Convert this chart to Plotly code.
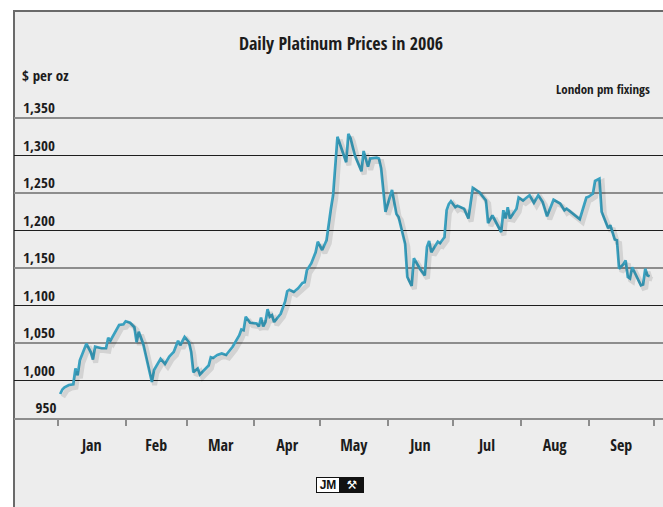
import pandas as pd
import plotly.graph_objects as go

# ---------------- data ----------------
dates = [
    "2006-01-02", "2006-01-03", "2006-01-04", "2006-01-06", "2006-01-08", "2006-01-09",
    "2006-01-10", "2006-01-11", "2006-01-14", "2006-01-16", "2006-01-17", "2006-01-18",
    "2006-01-21", "2006-01-23", "2006-01-24", "2006-01-25", "2006-01-29", "2006-01-31",
    "2006-02-01", "2006-02-03", "2006-02-05", "2006-02-06", "2006-02-07", "2006-02-09",
    "2006-02-13", "2006-02-14", "2006-02-17", "2006-02-19", "2006-02-20", "2006-02-21",
    "2006-02-23", "2006-02-25", "2006-02-26", "2006-02-28",
    "2006-03-02", "2006-03-03", "2006-03-04", "2006-03-06", "2006-03-07", "2006-03-11",
    "2006-03-12", "2006-03-13", "2006-03-15", "2006-03-17", "2006-03-19", "2006-03-22",
    "2006-03-25", "2006-03-26", "2006-03-27", "2006-03-28", "2006-03-30",
    "2006-04-02", "2006-04-03", "2006-04-04", "2006-04-05", "2006-04-06", "2006-04-07",
    "2006-04-08", "2006-04-09", "2006-04-10", "2006-04-13", "2006-04-15", "2006-04-16",
    "2006-04-17", "2006-04-19", "2006-04-21", "2006-04-23", "2006-04-24", "2006-04-25",
    "2006-04-27", "2006-04-29", "2006-04-30",
    "2006-05-02", "2006-05-04", "2006-05-06", "2006-05-07", "2006-05-09", "2006-05-13",
    "2006-05-14", "2006-05-15", "2006-05-17", "2006-05-20", "2006-05-21", "2006-05-23",
    "2006-05-24", "2006-05-27", "2006-05-28", "2006-05-29", "2006-05-31",
    "2006-06-02", "2006-06-03", "2006-06-05", "2006-06-06", "2006-06-09", "2006-06-10",
    "2006-06-12", "2006-06-13", "2006-06-16", "2006-06-18", "2006-06-19", "2006-06-20",
    "2006-06-21", "2006-06-24", "2006-06-25", "2006-06-27", "2006-06-28", "2006-06-29",
    "2006-06-30",
    "2006-07-02", "2006-07-03", "2006-07-06", "2006-07-08", "2006-07-10", "2006-07-12",
    "2006-07-13", "2006-07-16", "2006-07-17", "2006-07-19", "2006-07-23", "2006-07-24",
    "2006-07-25", "2006-07-26", "2006-07-27", "2006-07-30", "2006-07-31",
    "2006-08-02", "2006-08-05", "2006-08-07", "2006-08-09", "2006-08-11", "2006-08-13",
    "2006-08-16", "2006-08-19", "2006-08-21", "2006-08-22", "2006-08-28", "2006-08-31",
    "2006-09-01", "2006-09-03", "2006-09-04", "2006-09-06", "2006-09-07", "2006-09-10",
    "2006-09-11", "2006-09-12", "2006-09-13", "2006-09-14", "2006-09-15", "2006-09-17",
    "2006-09-18", "2006-09-19", "2006-09-20", "2006-09-21", "2006-09-23", "2006-09-25",
    "2006-09-26", "2006-09-27", "2006-09-28", "2006-09-29",
]
prices = [
    982, 988, 991, 994, 995, 1016,
    1007, 1027, 1049, 1038, 1028, 1045,
    1043, 1043, 1057, 1053, 1074, 1075,
    1079, 1077, 1071, 1051, 1065, 1049,
    998, 1014, 1029, 1022, 1027, 1032,
    1038, 1053, 1047, 1058,
    1051, 1038, 1011, 1016, 1008, 1020,
    1031, 1030, 1034, 1036, 1034, 1045,
    1060, 1068, 1067, 1085, 1077,
    1076, 1072, 1084, 1072, 1078, 1095,
    1085, 1087, 1078, 1089, 1105, 1119,
    1121, 1118, 1123, 1130, 1131, 1147,
    1156, 1171, 1185,
    1174, 1187, 1229, 1247, 1325, 1291,
    1329, 1323, 1300, 1279, 1306, 1285,
    1296, 1297, 1296, 1283, 1225,
    1243, 1254, 1222, 1218, 1182, 1138,
    1126, 1163, 1148, 1140, 1178, 1186,
    1171, 1185, 1183, 1191, 1227, 1235,
    1239,
    1231, 1233, 1229, 1216, 1257, 1253,
    1251, 1240, 1210, 1220, 1198, 1227,
    1216, 1231, 1216, 1229, 1244,
    1240, 1247, 1237, 1247, 1238, 1219,
    1241, 1236, 1227, 1229, 1215, 1244,
    1245, 1249, 1266, 1269, 1225, 1203,
    1207, 1198, 1188, 1187, 1149, 1155,
    1160, 1138, 1136, 1151, 1138, 1127,
    1128, 1149, 1140, 1139,
]
month_labels = ["Jan", "Feb", "Mar", "Apr", "May", "Jun", "Jul", "Aug", "Sep"]
y_levels = [950, 1000, 1050, 1100, 1150, 1200, 1250, 1300, 1350]
y_labels = ["950", "1,000", "1,050", "1,100", "1,150", "1,200", "1,250", "1,300", "1,350"]
dark_levels = [1000, 1100, 1200, 1300]
grey_levels = [1050, 1150, 1250, 1350]
y_top = 1390

title_text = "Daily Platinum Prices in 2006"
unit_text = "$ per oz"
note_text = "London pm fixings"

# ---------------- derived ----------------
month_starts = pd.date_range("2006-01-01", periods=len(month_labels) + 1, freq="MS")
month_mids = [month_starts[i] + (month_starts[i + 1] - month_starts[i]) / 2
              for i in range(len(month_labels))]

maxlen = max(len(s) for s in y_labels)
y_text = [("\u2007\u2008" if len(s) < maxlen else "") + s for s in y_labels]

FONT = "Open Sans Condensed, Roboto Condensed, Liberation Sans Narrow, sans-serif"
LINE = "#3aa1c0"
GRID_GREY = "#8d8d8d"
GRID_DARK = "#1e1e1e"
PANEL = "#ededed"
TXT = "#1c1c1c"

W, H = 663, 507
L, R, T, B = 14, 0, 88, 89
PW, PH = W - L - R, H - T - B

def px_x(px):
    return (px - L) / PW

def px_y(py):
    return (H - B - py) / PH

x_range = [pd.Timestamp("2005-12-11 20:24"), pd.Timestamp("2006-10-05 02:53")]
shift_days = pd.Timedelta(hours=30)

fig = go.Figure()

# soft drop shadow (same data on slightly offset overlay axes)
fig.add_trace(go.Scatter(
    x=pd.to_datetime(dates), y=prices, mode="lines",
    line=dict(color="rgba(0,0,0,0.11)", width=5),
    xaxis="x2", yaxis="y2", hoverinfo="skip", showlegend=False,
))
fig.add_trace(go.Scatter(
    x=pd.to_datetime(dates), y=prices, mode="lines",
    line=dict(color=LINE, width=2.7),
    showlegend=False, name="Platinum",
))

shapes = [
    dict(type="rect", xref="paper", yref="paper",
         x0=0, x1=1.05, y0=-0.6, y1=px_y(11),
         fillcolor=PANEL, line=dict(color="#6a6a6a", width=2), layer="below"),
]
for v in grey_levels:
    shapes.append(dict(type="line", xref="paper", yref="y", x0=0, x1=1, y0=v, y1=v,
                       line=dict(color=GRID_GREY, width=2), layer="below"))

fig.update_layout(
    width=W, height=H,
    margin=dict(l=L, r=R, t=T, b=B, autoexpand=False),
    paper_bgcolor="white",
    plot_bgcolor="rgba(0,0,0,0)",
    showlegend=False,
    font=dict(family=FONT, color=TXT, size=14),
    title=dict(text=title_text, x=341 / W, xanchor="center", xref="container",
               y=1 - 44 / H, yanchor="middle", yref="container",
               font=dict(family=FONT, size=18, weight="bold", color=TXT)),
    xaxis=dict(
        type="date", range=x_range,
        tickmode="array", tickvals=month_mids, ticktext=month_labels,
        ticks="", showgrid=False, zeroline=False,
        showline=True, linecolor=GRID_GREY, linewidth=2,
        tickfont=dict(family=FONT, size=16, weight="bold", color=TXT),
        ticklabelstandoff=12,
        minor=dict(tickmode="array", tickvals=list(month_starts), ticks="outside",
                   ticklen=6, tickwidth=1.5, tickcolor=GRID_GREY, showgrid=False),
        fixedrange=True,
    ),
    yaxis=dict(
        range=[y_levels[0], y_top],
        tickmode="array", tickvals=y_levels, ticktext=y_text,
        ticks="", ticklabelposition="inside", ticklabelshift=-10, ticklabelstandoff=6,
        showgrid=False, zeroline=False, showline=False,
        minor=dict(tickmode="array", tickvals=dark_levels, ticks="", showgrid=True,
                   gridcolor=GRID_DARK, gridwidth=1.4),
        tickfont=dict(family=FONT, size=15, weight="bold", color=TXT),
        fixedrange=True,
    ),
    xaxis2=dict(type="date", overlaying="x", visible=False,
                range=[x_range[0] - shift_days, x_range[1] - shift_days]),
    yaxis2=dict(overlaying="y", visible=False,
                range=[y_levels[0] + 4, y_top + 4]),
    shapes=shapes,
    annotations=[
        dict(text=unit_text, xref="paper", yref="paper", x=px_x(20), y=px_y(75),
             xanchor="left", yanchor="middle", showarrow=False,
             font=dict(family=FONT, size=15, weight="bold", color=TXT)),
        dict(text=note_text, xref="paper", yref="paper", x=px_x(652), y=px_y(89),
             xanchor="right", yanchor="middle", showarrow=False,
             font=dict(family=FONT, size=13, weight="bold", color=TXT)),
        dict(text="JM", xref="paper", yref="paper", x=px_x(328), y=px_y(485),
             xanchor="center", yanchor="middle", showarrow=False,
             width=22, height=14, bgcolor="white", bordercolor="#111111", borderwidth=1,
             borderpad=0,
             font=dict(family="Liberation Sans, Arial, sans-serif", size=12, weight="bold",
                       color="#111111")),
        dict(text="\u2692", xref="paper", yref="paper", x=px_x(352), y=px_y(485),
             xanchor="center", yanchor="middle", showarrow=False,
             width=22, height=14, bgcolor="#111111", bordercolor="#111111", borderwidth=1,
             borderpad=0,
             font=dict(family="DejaVu Sans, sans-serif", size=12, color="white")),
    ],
)

fig.write_html("out.html", config={"displayModeBar": False},
               post_script="document.body.style.margin='0';")
